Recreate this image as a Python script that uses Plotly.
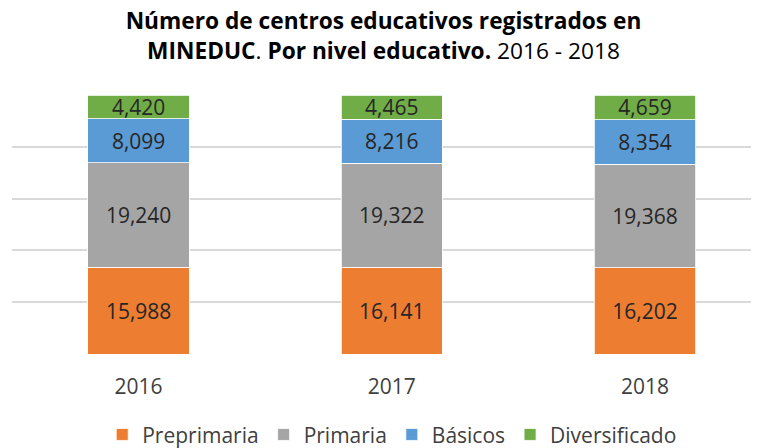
import plotly.graph_objects as go

# data
years = ["2016", "2017", "2018"]
preprimaria = [15988, 16141, 16202]
primaria = [19240, 19322, 19368]
basicos = [8099, 8216, 8354]
diversificado = [4420, 4465, 4659]

series = [
    ("Preprimaria", preprimaria, "#ED7D31"),
    ("Primaria", primaria, "#A5A5A5"),
    ("Básicos", basicos, "#5B9BD5"),
    ("Diversificado", diversificado, "#70AD47"),
]

fig = go.Figure()
for name, vals, col in series:
    fig.add_trace(go.Bar(
        x=years, y=vals, name=name,
        marker=dict(color=col, line=dict(color="white", width=0.8)),
        text=[f"{v:,}" for v in vals],
        textposition="inside", insidetextanchor="middle",
        constraintext="none",
        textfont=dict(size=21, color="#262626"),
        width=0.4,
    ))

# page body adds an 8px offset, so the figure is 8px smaller
fig.update_layout(
    barmode="stack", barnorm="percent",
    width=751, height=440,
    margin=dict(l=4, r=0, t=87, b=94, autoexpand=False),
    paper_bgcolor="white", plot_bgcolor="white",
    font=dict(family="Open Sans", color="#404040"),
    title=dict(
        text="<b>Número de centros educativos registrados en<br>MINEDUC</b>. <b>Por nivel educativo.</b> 2016 - 2018",
        x=0.5, xanchor="center", y=0.952, yanchor="middle",
        font=dict(size=22.7, color="#000000"),
    ),
    showlegend=True,
    legend=dict(orientation="h", x=0.509, xanchor="center", yref="container", y=0.03, yanchor="middle",
                font=dict(size=21, color="#404040"), traceorder="normal", itemwidth=30),
)
fig.update_xaxes(range=[-0.5, 2.45], showgrid=False, showline=False,
                 ticks="outside", ticklen=14, tickcolor="white",
                 tickfont=dict(size=21, color="#404040"))
fig.update_yaxes(range=[0, 100], dtick=20, showgrid=True, gridcolor="#D9D9D9",
                 gridwidth=1.5, showticklabels=False, zeroline=False)

fig.write_html("out.html")
